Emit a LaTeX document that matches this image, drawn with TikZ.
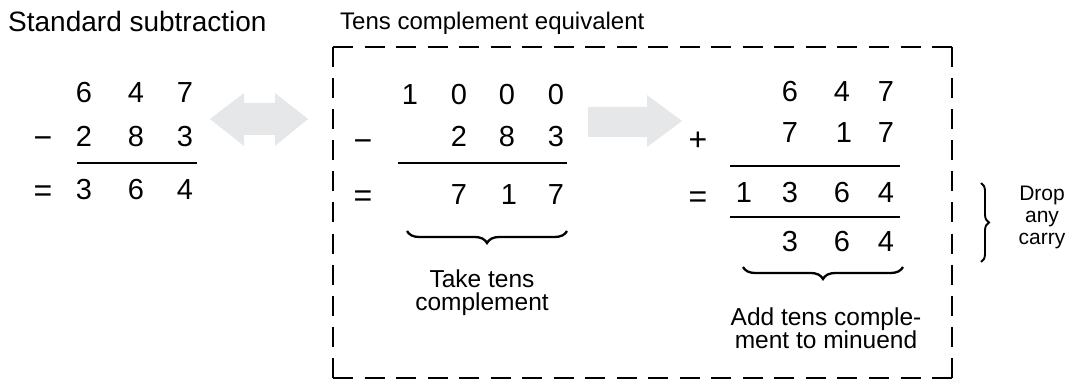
\documentclass[tikz,border=0pt]{standalone}
\usepackage{fontspec}
\setmainfont{Liberation Sans}
\usetikzlibrary{decorations.pathreplacing}
\definecolor{arrowgray}{RGB}{230,231,232}
\tikzset{
  title/.style={inner sep=0pt, anchor=base west},
  dig/.style={font=\fontsize{29}{30}\selectfont, inner sep=0pt, anchor=base},
  op/.style={font=\fontsize{32}{34}\selectfont, inner sep=0pt, anchor=base},
  note/.style={font=\fontsize{24.5}{23}\selectfont, inner sep=0pt, align=center},
  small/.style={font=\fontsize{21}{22}\selectfont, inner sep=0pt, align=center},
  rule/.style={line width=1.4pt},
  hdash/.style={line width=2.4pt, dash pattern=on 20pt off 11.53pt},
  vdash/.style={line width=2.4pt, dash pattern=on 20pt off 11.1pt},
  bigarrow/.style={fill=arrowgray, draw=none},
  brc/.style={line width=2.3pt, decorate, decoration={brace, amplitude=12pt}}
}
\begin{document}
\begin{tikzpicture}[x=1pt, y=-1pt]
\useasboundingbox (0,0) rectangle (1077,382);
% titles
\node[title, font=\fontsize{28}{29}\selectfont] (t1) at (8,32) {Standard subtraction};
\node[title, font=\fontsize{24}{26}\selectfont] (t2) at (340,30) {Tens complement equivalent};
% dashed box
\coordinate (b1) at (333,47);
\coordinate (b2) at (952,47);
\coordinate (b3) at (952,378);
\coordinate (b4) at (333,378);
\draw[hdash] (b1) -- (b2);
\draw[hdash] (b4) -- (b3);
\draw[vdash] (b1) -- (b4);
\draw[vdash] (b2) -- (b3);
% arrows
\fill[bigarrow] (210,119) -- (244,93) -- (244,103) -- (275,103) -- (275,93) -- (308,119)
  -- (275,146) -- (275,135) -- (244,135) -- (244,146) -- cycle;
\fill[bigarrow] (588,107) -- (647,107) -- (647,95) -- (682,121) -- (647,147) -- (647,137)
  -- (588,137) -- cycle;
% left block
\node[dig] (l11) at (84,103) {6};
\node[dig] (l12) at (136,103) {4};
\node[dig] (l13) at (185,103) {7};
\node[op] (lminus) at (43,149) {−};
\node[dig] (l21) at (84,147) {2};
\node[dig] (l22) at (136,147) {8};
\node[dig] (l23) at (185,147) {3};
\coordinate (lla) at (77,163);
\coordinate (llb) at (197,163);
\draw[rule] (lla) -- (llb);
\node[op] (leq) at (43,202) {=};
\node[dig] (l31) at (84,200) {3};
\node[dig] (l32) at (136,200) {6};
\node[dig] (l33) at (185,200) {4};
% middle block
\node[dig] (m10) at (410,105) {1};
\node[dig] (m11) at (459,105) {0};
\node[dig] (m12) at (507,105) {0};
\node[dig] (m13) at (556,105) {0};
\node[op] (mminus) at (363,152) {−};
\node[dig] (m21) at (459,147) {2};
\node[dig] (m22) at (507,147) {8};
\node[dig] (m23) at (556,147) {3};
\coordinate (mla) at (398,163);
\coordinate (mlb) at (567,163);
\draw[rule] (mla) -- (mlb);
\node[op] (meq) at (363,207) {=};
\node[dig] (m31) at (459,205) {7};
\node[dig] (m32) at (509,205) {1};
\node[dig] (m33) at (556,205) {7};
\coordinate (mba) at (407,231);
\coordinate (mbb) at (567,231);
\draw[brc, decoration={mirror}] (mba) -- (mbb);
\node[note] (mnote) at (482,293) {Take tens\\complement};
% right block
\node[dig] (r11) at (790,102) {6};
\node[dig] (r12) at (842,102) {4};
\node[dig] (r13) at (886,102) {7};
\node[op] (rplus) at (698,151) {+};
\node[dig] (r21) at (790,143) {7};
\node[dig] (r22) at (844,143) {1};
\node[dig] (r23) at (886,143) {7};
\coordinate (rla) at (730,166);
\coordinate (rlb) at (900,166);
\draw[rule] (rla) -- (rlb);
\node[op] (req) at (698,208) {=};
\node[dig] (r30) at (744,203) {1};
\node[dig] (r31) at (790,203) {3};
\node[dig] (r32) at (842,203) {6};
\node[dig] (r33) at (886,203) {4};
\coordinate (rma) at (730,217);
\coordinate (rmb) at (900,217);
\draw[rule] (rma) -- (rmb);
\node[dig] (r41) at (790,252) {3};
\node[dig] (r42) at (842,252) {6};
\node[dig] (r43) at (886,252) {4};
\coordinate (rba) at (743,267);
\coordinate (rbb) at (903,267);
\draw[brc, decoration={mirror}] (rba) -- (rbb);
\node[note] (rnote) at (826,328) {Add tens comple-\\ment to minuend};
% drop any carry
\coordinate (dca) at (981,183);
\coordinate (dcb) at (981,262);
\draw[brc, line width=1.9pt, decoration={amplitude=8pt}] (dca) -- (dcb);
\node[small] (drop) at (1042,217) {Drop\\any\\carry};
\end{tikzpicture}
\end{document}
